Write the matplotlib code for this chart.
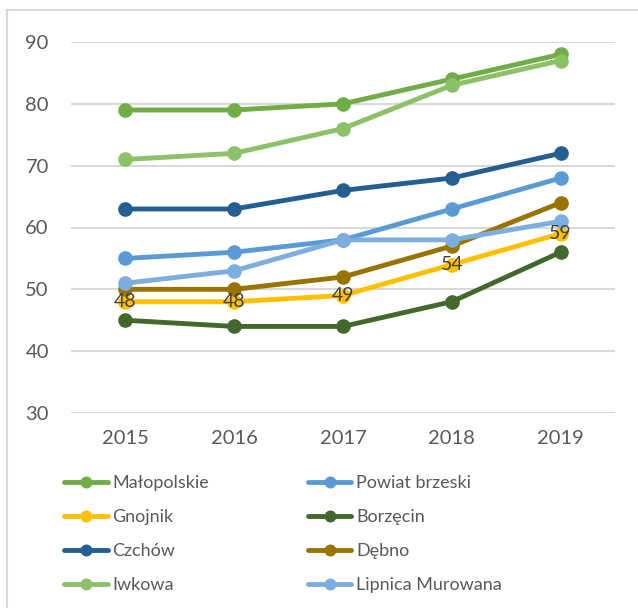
import matplotlib
matplotlib.use("Agg")
from matplotlib import pyplot as plt
from matplotlib.patches import Rectangle

years = ["2015", "2016", "2017", "2018", "2019"]

malopolskie = [79, 79, 80, 84, 88]
powiat_brzeski = [55, 56, 58, 63, 68]
gnojnik = [48, 48, 49, 54, 59]
borzecin = [45, 44, 44, 48, 56]
czchow = [63, 63, 66, 68, 72]
debno = [50, 50, 52, 57, 64]
iwkowa = [71, 72, 76, 83, 87]
lipnica = [51, 53, 58, 58, 61]

series = [
    ("Małopolskie", malopolskie, "#70AD47"),
    ("Powiat brzeski", powiat_brzeski, "#5B9BD5"),
    ("Gnojnik", gnojnik, "#FFC000"),
    ("Borzęcin", borzecin, "#43682B"),
    ("Czchów", czchow, "#255E91"),
    ("Dębno", debno, "#997300"),
    ("Iwkowa", iwkowa, "#8CC168"),
    ("Lipnica Murowana", lipnica, "#7CAFDD"),
]

plt.rcParams["font.family"] = ["Lato", "DejaVu Sans"]

fig = plt.figure(figsize=(6.38, 6.08), dpi=100)
fig.patches.append(Rectangle((7 / 638, -0.05), 1.0, 1 - 10 / 608 + 0.05, transform=fig.transFigure,
                             fill=False, edgecolor="#D9D9D9", linewidth=1.5))

ax = fig.add_axes([71 / 638, 1 - 413 / 608, 544 / 638, 371 / 608])
xs = list(range(len(years)))

handles = {}
for name, values, color in series:
    line, = ax.plot(xs, values, color=color, linewidth=3.5, marker="o", markersize=9.5,
                    solid_capstyle="round", label=name, zorder=3)
    handles[name] = line

# data labels only on Gnojnik
for x, v in zip(xs, gnojnik):
    ax.text(x, v, str(v), ha="center", va="center", fontsize=14, color="#404040", zorder=5)

ax.set_xlim(-0.5, 4.5)
ax.set_ylim(30, 90)
ax.set_yticks(range(30, 91, 10))
ax.set_xticks(xs)
ax.set_xticklabels(years)
ax.grid(axis="y", color="#D9D9D9", linewidth=1.5)
ax.set_axisbelow(True)
for s in ax.spines.values():
    s.set_visible(False)
ax.tick_params(length=0, labelsize=14.5, colors="#595959", pad=12)
ax.tick_params(axis="y", pad=16)

# Excel fills legend row-wise, matplotlib column-wise
order = ["Małopolskie", "Gnojnik", "Czchów", "Iwkowa",
         "Powiat brzeski", "Borzęcin", "Dębno", "Lipnica Murowana"]
leg = fig.legend([handles[n] for n in order], order, ncol=2, loc="upper left",
                 bbox_to_anchor=(48 / 638, 1 - 459 / 608), frameon=False,
                 fontsize=13, handlelength=2.4, handletextpad=0.25,
                 columnspacing=5.5, labelspacing=1.0, markerscale=0.8)
for t in leg.get_texts():
    t.set_color("#595959")

fig.savefig("out.png", dpi=100)
